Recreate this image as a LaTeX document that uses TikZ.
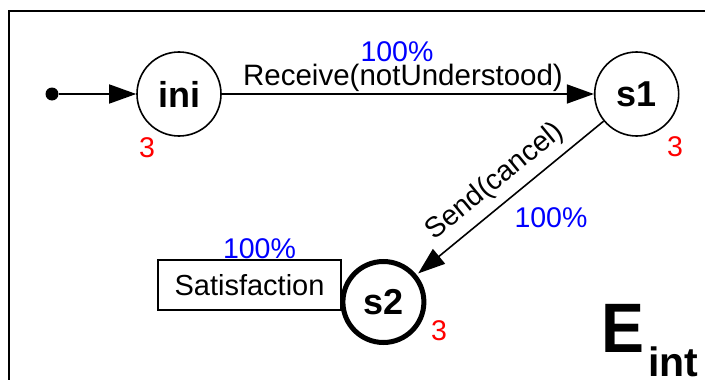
\documentclass[tikz,border=0pt]{standalone}
\usepackage{fontspec}
\setmainfont{Liberation Sans}
\usetikzlibrary{arrows.meta}
\begin{document}
\begin{tikzpicture}[x=1pt,y=-1pt,
  state/.style={circle,draw,line width=1.6pt,minimum size=84pt,inner sep=0pt,font=\fontsize{36}{38}\selectfont\bfseries},
  lbl/.style={inner sep=0pt,anchor=base,font=\fontsize{28.5}{30}\selectfont},
  pct/.style={lbl,text=blue},
  cnt/.style={lbl,text=red},
  tr/.style={line width=1.6pt,-{Triangle[length=27pt,width=19pt]}}
]
\useasboundingbox (0,0) rectangle (705,380);
\clip (0,0) rectangle (705,380);
\draw[line width=2pt] (9,390) -- (9,10.5) -- (715,10.5);
% nodes
\node[fill,circle,inner sep=0pt,minimum size=13pt] (start) at (52,94) {};
\node[state] (ini) at (179,94) {ini};
\node[state] (s1) at (636.7,94) {s1};
\node[state,line width=5pt,minimum size=81pt] (s2) at (383.4,302) {s2};
\node[draw,line width=1.6pt,minimum width=183pt,minimum height=50pt,inner sep=0pt,font=\fontsize{29}{30}\selectfont] (sat) at (249.5,285) {Satisfaction};
% connectors
\draw[tr] (start) -- (ini);
\draw[tr] (ini) -- (s1);
\draw[tr,shorten >=2pt] (s1) -- (s2);
% labels
\node[pct] (p1) at (397,61.7) {100\%};
\node[lbl,font=\fontsize{29.5}{30}\selectfont] (rcv) at (403,85) {Receive(notUnderstood)};
\node[inner sep=0pt,rotate=39.4,font=\fontsize{28.5}{30}\selectfont] (snd) at (495,182) {Send(cancel)};
\node[pct] (p2) at (551,227.7) {100\%};
\node[pct] (p3) at (259.5,258) {100\%};
\node[cnt] (c1) at (147,157) {3};
\node[cnt] (c2) at (675,156) {3};
\node[cnt] (c3) at (439,340) {3};
\node[anchor=base west,inner sep=0pt,xscale=0.92,font=\fontsize{70}{70}\selectfont\bfseries] (E) at (601,352.7) {E};
\node[anchor=base west,inner sep=0pt,font=\fontsize{41}{41}\selectfont\bfseries] (int) at (648,376) {int};
\end{tikzpicture}
\end{document}
